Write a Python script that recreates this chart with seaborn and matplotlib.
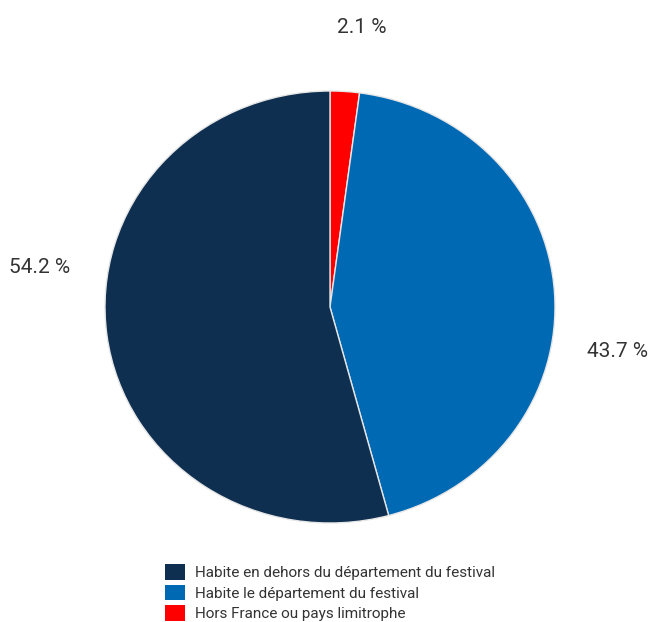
import matplotlib
matplotlib.use("Agg")
import matplotlib.pyplot as plt
from matplotlib.patches import Patch
import seaborn as sns

sns.set_theme(style="white")
plt.rcParams["font.family"] = ["Roboto", "DejaVu Sans"]

categories = [
    "Hors France ou pays limitrophe",
    "Habite le département du festival",
    "Habite en dehors du département du festival",
]
shares = [2.1, 43.7, 54.2]
colors = ["#ff0000", "#0069b4", "#0e2f50"]
legend_order = [2, 1, 0]
# label anchor points (in pie-radius units) around the disc
label_xy = [(0.142, 1.296), (1.276, -0.208), (-1.289, 0.181)]

fig = plt.figure(figsize=(6.54, 6.22), dpi=100)
ax = fig.add_axes([105 / 654, (315 - 216) / 622, 450 / 654, 432 / 622])

ax.pie(
    shares,
    colors=colors,
    startangle=90,
    counterclock=False,
    radius=1,
    wedgeprops=dict(edgecolor="#e6e6e6", linewidth=1.0),
)
ax.set_xlim(-1, 1)
ax.set_ylim(-1, 1)
ax.set_aspect("auto")
ax.axis("off")

for v, (x, y) in zip(shares, label_xy):
    ax.text(x, y, f"{v} %", ha="center", va="center", fontsize=15,
            color="#333333", clip_on=False)

handles = [Patch(facecolor=colors[i], edgecolor="none") for i in legend_order]
labels = [categories[i] for i in legend_order]
fig.legend(
    handles, labels,
    loc="upper left",
    bbox_to_anchor=(165 / 654, 1 - 564 / 622),
    frameon=False,
    fontsize=11,
    handlelength=1.3,
    handleheight=1.2,
    handletextpad=0.65,
    labelspacing=0.3,
    borderpad=0,
    borderaxespad=0,
    labelcolor="#333333",
)

fig.savefig("out.png", dpi=100)
